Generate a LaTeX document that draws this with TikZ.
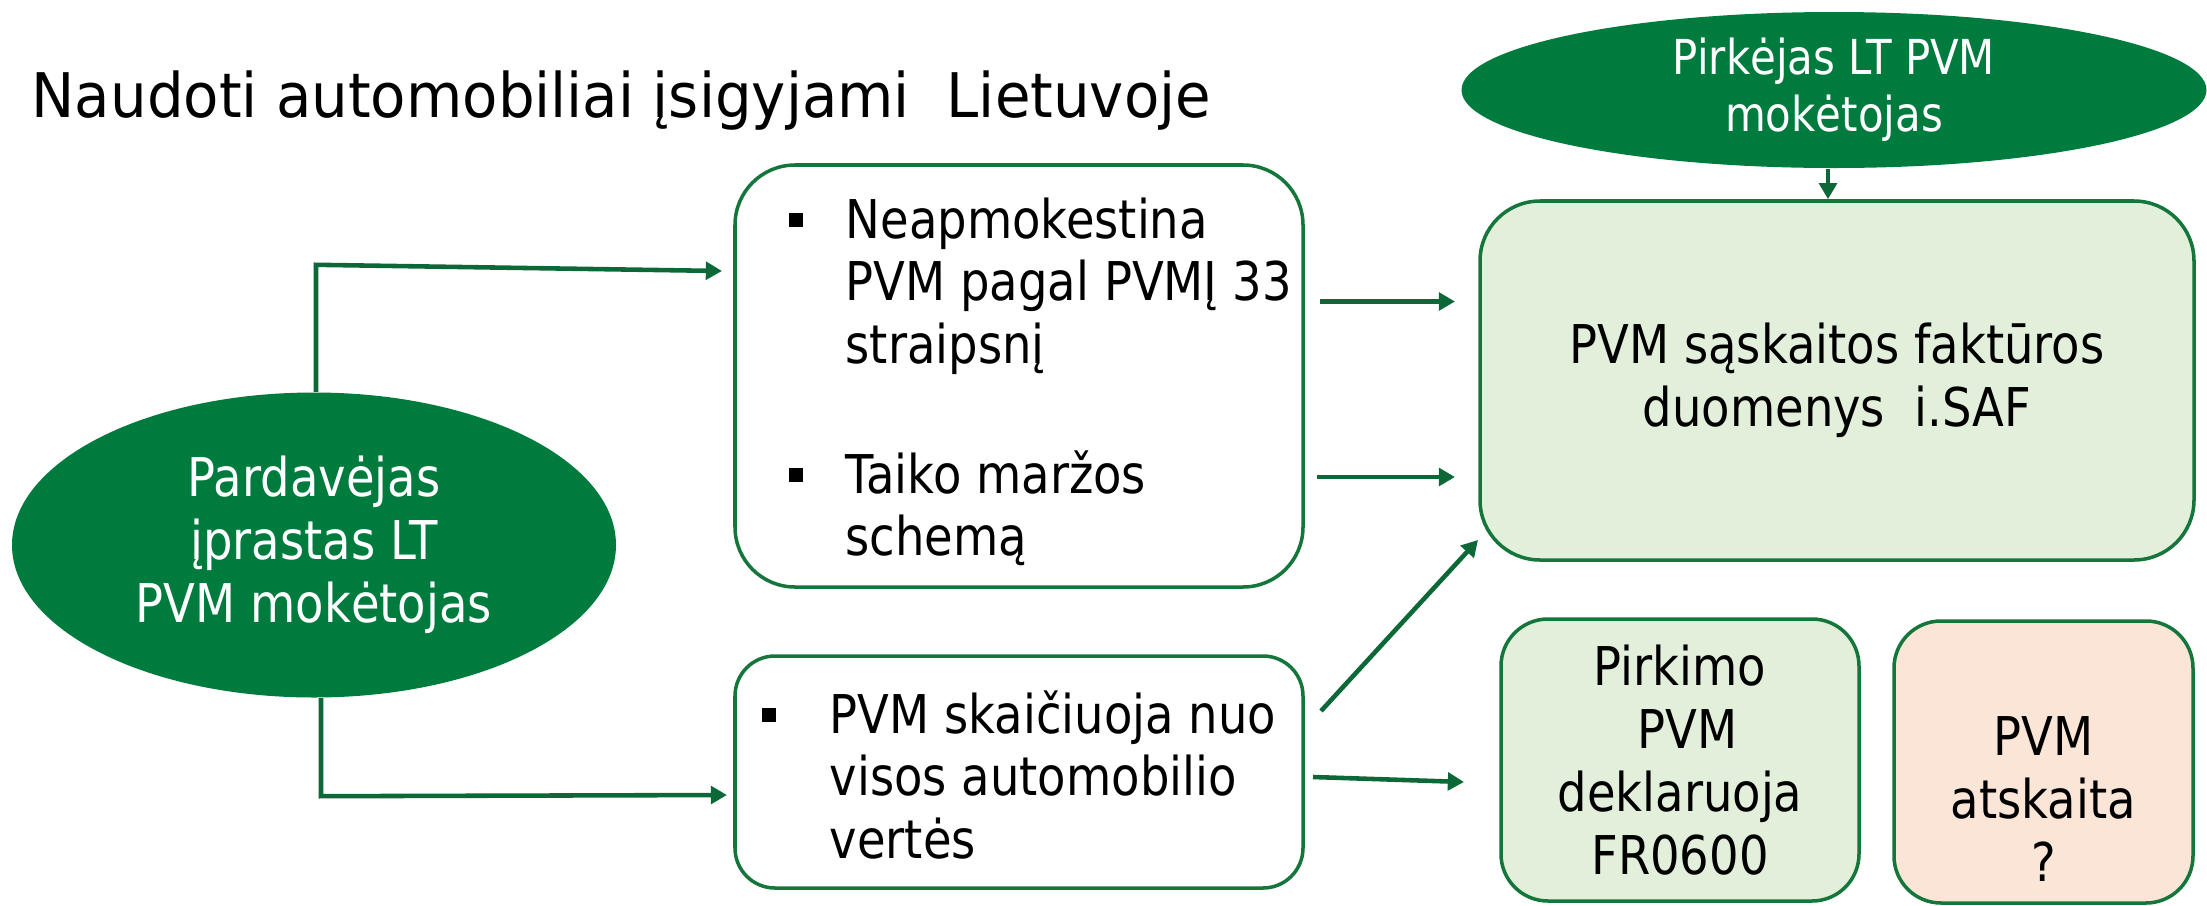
\documentclass[tikz,border=0pt]{standalone}
\usepackage{fontspec}
\setmainfont{DejaVu Sans}[FakeStretch=0.87]
\newfontfamily\titlefont{DejaVu Sans}[FakeStretch=0.94]
\usetikzlibrary{shapes.geometric,arrows.meta}

\definecolor{pvmgreen}{RGB}{0,123,62}
\definecolor{linegreen}{RGB}{20,118,58}
\definecolor{arrowgreen}{RGB}{12,105,55}
\definecolor{boxgreen}{RGB}{226,239,218}
\definecolor{boxpeach}{RGB}{251,229,214}

\newcommand{\blt}{\rule[0.11cm]{0.14cm}{0.14cm}}
\newcommand{\bodysize}{\fontsize{15.2}{17.9}\selectfont}

\begin{document}
\begin{tikzpicture}[
    font=\bodysize,
    party/.style={ellipse, fill=pvmgreen, text=white, align=center, inner sep=0pt},
    roundbox/.style={draw=linegreen, line width=1pt, rectangle, inner sep=0pt, align=center},
    item/.style={anchor=base west, inner sep=0pt},
    arr/.style={draw=arrowgreen, line width=1.3pt, -{Triangle[length=4.6pt,width=5pt]}}
  ]
	\useasboundingbox (0,0) rectangle (22.07,9.05);

	\node[anchor=base west, inner sep=0pt, font=\titlefont\fontsize{17.5}{21}\selectfont] (title) at (0.31,7.88) {Naudoti automobiliai įsigyjami\ \ Lietuvoje};

	\node[party, minimum width=6.04cm, minimum height=3.05cm]                                  (pardavejas) at ( 3.14,3.60) {Pardavėjas\\įprastas LT\\PVM mokėtojas};
	\node[party, minimum width=7.45cm, minimum height=1.56cm, font=\fontsize{13.7}{16.2}\selectfont] (pirkejas)   at (18.34,8.15) {Pirkėjas LT PVM\\mokėtojas};

	\node[roundbox, fill=white,    rounded corners=0.6cm,  minimum width=5.68cm, minimum height=4.22cm] (salygos)  at (10.19,5.29)  {};
	\node[roundbox, fill=white,    rounded corners=0.4cm,  minimum width=5.68cm, minimum height=2.32cm] (visa)     at (10.19,1.33)  {};
	\node[roundbox, fill=boxgreen, rounded corners=0.6cm,  minimum width=7.14cm, minimum height=3.59cm] (saf)      at (18.37,5.245) {PVM sąskaitos faktūros\\duomenys\ \ i.SAF};
	\node[roundbox, fill=boxgreen, rounded corners=0.47cm, minimum width=3.58cm, minimum height=2.82cm] (pirkimo)  at (16.80,1.45)  {Pirkimo\\\hspace*{0.15cm}PVM\\deklaruoja\\FR0600};
	\node[roundbox, fill=boxpeach, rounded corners=0.47cm, minimum width=2.99cm, minimum height=2.82cm] (atskaita) at (20.435,1.43) {};
	\node[align=center, inner sep=0pt] (atskaitatxt) at ([yshift=-0.37cm]atskaita.center) {PVM\\atskaita\\?};

	\node[item] (neapmok) at (7.88,6.67) {\begin{tabular}[t]{@{}l@{\hspace{0.43cm}}l@{}}\blt & Neapmokestina\\ & PVM pagal PVMĮ 33\\ & straipsnį\end{tabular}};
	\node[item] (marza)   at (7.88,4.12) {\begin{tabular}[t]{@{}l@{\hspace{0.43cm}}l@{}}\blt & Taiko maržos\\ & schemą\end{tabular}};
	\node[item] (visatxt) at (7.61,1.72) {\begin{tabular}[t]{@{}l@{\hspace{0.54cm}}l@{}}\blt & PVM skaičiuoja nuo\\ & visos automobilio\\ & vertės\end{tabular}};

	\coordinate (inA) at ( 7.22,6.34);
	\coordinate (inB) at ( 7.27,1.10);
	\coordinate (s1)  at (13.20,6.035);
	\coordinate (t1)  at (14.55,6.035);
	\coordinate (s2)  at (13.17,4.28);
	\coordinate (t2)  at (14.55,4.28);
	\coordinate (s3)  at (13.21,1.94);
	\coordinate (t3)  at (14.78,3.65);
	\coordinate (s4)  at (13.13,1.28);
	\coordinate (t4)  at (14.64,1.23);

	\draw[arr] ([xshift= 0.02cm]pardavejas.north) -- ++(0, 1.27) -- (inA);
	\draw[arr] ([xshift= 0.07cm]pardavejas.south) -- ++(0,-0.98) -- (inB);
	\draw[arr] ([xshift=-0.06cm]pirkejas.south) -- ([xshift=-0.06cm]pirkejas.south |- saf.north);
	\draw[arr] (s1) -- (t1);
	\draw[arr] (s2) -- (t2);
	\draw[arr] (s3) -- (t3);
	\draw[arr] (s4) -- (t4);
\end{tikzpicture}
\end{document}
